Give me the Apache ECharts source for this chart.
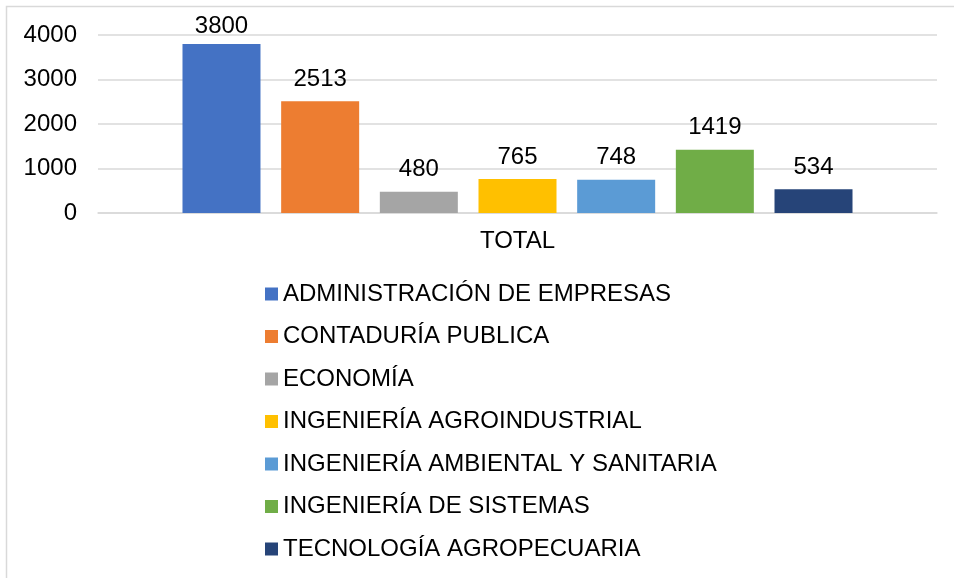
<!DOCTYPE html>
<html>
<head>
<meta charset="utf-8">
<script src="https://cdn.jsdelivr.net/npm/echarts@6/dist/echarts.min.js"></script>
<style>
  html, body { margin: 0; padding: 0; background: #fff; }
  #main { width: 954px; height: 578px; }
</style>
</head>
<body>
<div id="main"></div>
<script>
// datos del gráfico
var categorias = ['TOTAL'];
var programas = [
    'ADMINISTRACIÓN DE EMPRESAS',
    'CONTADURÍA PUBLICA',
    'ECONOMÍA',
    'INGENIERÍA AGROINDUSTRIAL',
    'INGENIERÍA AMBIENTAL Y SANITARIA',
    'INGENIERÍA DE SISTEMAS',
    'TECNOLOGÍA AGROPECUARIA'
];
var valores = [3800, 2513, 480, 765, 748, 1419, 534];
var colores = ['#4472C4', '#ED7D31', '#A5A5A5', '#FFC000', '#5B9BD5', '#70AD47', '#264478'];

var fuente = 'Liberation Sans, Arial, sans-serif';

var myChart = echarts.init(document.getElementById('main'));

var series = programas.map(function (nombre, i) {
    return {
        name: nombre,
        type: 'bar',
        data: [valores[i]],
        barWidth: 78,
        barGap: '26.5%',
        itemStyle: { color: colores[i] },
        label: {
            show: true,
            position: 'top',
            // la etiqueta más alta queda algo más pegada a la barra
            distance: i === 0 ? 6 : 10,
            color: '#000',
            fontSize: 24,
            fontFamily: fuente
        }
    };
});

var option = {
    animation: false,
    backgroundColor: '#fff',
    graphic: [{
        type: 'rect',
        shape: { x: 6.5, y: 6.5, width: 1000, height: 1000 },
        style: { fill: 'none', stroke: '#d9d9d9', lineWidth: 1.5 },
        silent: true
    }],
    grid: { left: 98, right: 17, top: 35, height: 178 },
    legend: {
        orient: 'vertical',
        left: 265,
        top: 282,
        padding: 0,
        itemWidth: 13,
        itemHeight: 13,
        itemGap: 18.5,
        icon: 'rect',
        data: programas,
        textStyle: { color: '#000', fontSize: 24, lineHeight: 24, fontFamily: fuente }
    },
    xAxis: {
        type: 'category',
        data: categorias,
        axisLine: { lineStyle: { color: '#d9d9d9', width: 1.5 } },
        axisTick: { show: false },
        axisLabel: { color: '#000', fontSize: 24, fontFamily: fuente, margin: 16 }
    },
    yAxis: {
        type: 'value',
        min: 0,
        max: 4000,
        interval: 1000,
        axisLine: { show: false },
        axisTick: { show: false },
        splitLine: { lineStyle: { color: '#d9d9d9', width: 1.5 } },
        axisLabel: {
            color: '#000', fontSize: 24, fontFamily: fuente, margin: 21,
            formatter: function (v) { return String(v); }
        }
    },
    series: series
};

myChart.setOption(option);
</script>
</body>
</html>
